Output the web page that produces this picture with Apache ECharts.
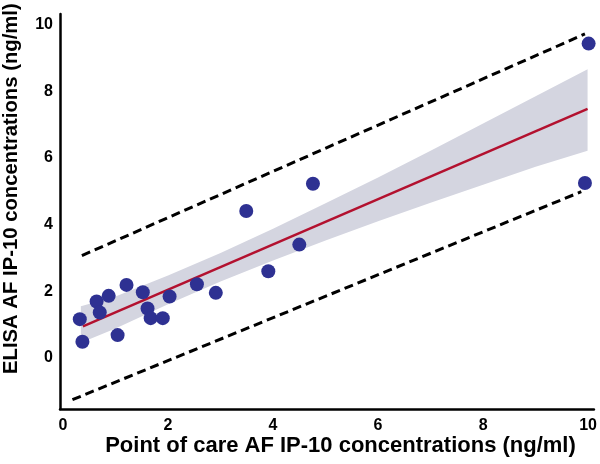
<!DOCTYPE html>
<html>
<head>
<meta charset="utf-8">
<script src="https://cdn.jsdelivr.net/npm/echarts@6/dist/echarts.min.js"></script>
<style>
html,body{margin:0;padding:0;background:#fff;}
#chart{width:600px;height:464px;}
</style>
</head>
<body>
<div id="chart"></div>
<script>
// Scatter points: point-of-care (x) vs ELISA (y), ng/ml
const pocValues   = [0.32, 0.37, 0.64, 0.70, 0.87, 1.04, 1.21, 1.52, 1.61, 1.67, 1.90, 2.03, 2.55, 2.91, 3.91, 4.50, 3.49, 4.76, 10.01, 9.94];
const elisaValues = [1.16, 0.48, 1.69, 1.36, 1.86, 0.68, 2.19, 1.97, 1.48, 1.19, 1.19, 1.84, 2.21, 1.95, 2.60, 3.40, 4.41, 5.23, 9.44, 5.25];

// Regression line end points
const fitX = [0.38, 9.99];
const fitY = [0.94, 7.48];

// Confidence band
const bandX     = [0.34, 1, 2, 3, 4, 5, 6, 7, 8, 9, 9.99];
const bandLower = [0.45, 0.88, 1.61, 2.29, 2.92, 3.52, 4.10, 4.66, 5.20, 5.74, 6.22];
const bandUpper = [1.55, 1.84, 2.47, 3.15, 3.88, 4.64, 5.42, 6.22, 7.04, 7.86, 8.67];

// Dashed limit lines
const upperLimX = [0.36, 9.94];
const upperLimY = [3.07, 9.73];
const lowerLimX = [0.18, 9.87];
const lowerLimY = [-1.26, 4.99];

// Tick labels
const xTicks = [0, 2, 4, 6, 8, 10];
const yTicks = [0, 2, 4, 6, 8, 10];

const xTitle = 'Point of care AF IP-10 concentrations (ng/ml)';
const yTitle = 'ELISA AF IP-10 concentrations (ng/ml)';

const FONT = '"Liberation Sans", Arial, sans-serif';
const zip = (a, b) => a.map((v, i) => [v, b[i]]);

const chart = echarts.init(document.getElementById('chart'), null, {renderer: 'canvas'});

const axisCommon = {
  type: 'value',
  splitLine: {show: false},
  axisTick: {show: false},
  axisLine: {show: true, onZero: false, lineStyle: {color: '#000', width: 2.5}},
  axisLabel: {
    show: true,
    color: '#000',
    fontFamily: FONT,
    fontWeight: 'bold',
    fontSize: 16
  }
};

chart.setOption({
  animation: false,
  backgroundColor: '#fff',
  grid: {left: 60, right: 4, top: 14, bottom: 55, containLabel: false},
  xAxis: Object.assign({}, axisCommon, {
    min: -0.057, max: 10.11,
    axisLabel: Object.assign({}, axisCommon.axisLabel, {customValues: xTicks, margin: 9})
  }),
  yAxis: Object.assign({}, axisCommon, {
    min: -1.54, max: 10.33,
    axisLabel: Object.assign({}, axisCommon.axisLabel, {customValues: yTicks, margin: 7})
  }),
  graphic: [
    {
      type: 'text',
      x: 340.5,
      y: 446,
      style: {text: xTitle, font: 'bold 22px ' + FONT, fill: '#000', textAlign: 'center', textVerticalAlign: 'middle'}
    },
    {
      type: 'text',
      x: 1,
      y: 374,
      rotation: Math.PI / 2,
      style: {text: yTitle, font: 'bold 20.3px ' + FONT, fill: '#000', textVerticalAlign: 'top'}
    }
  ],
  series: [
    {
      type: 'custom',
      z: 1,
      silent: true,
      data: [0],
      renderItem: function (params, api) {
        const pts = [];
        for (let i = 0; i < bandX.length; i++) pts.push(api.coord([bandX[i], bandUpper[i]]));
        for (let i = bandX.length - 1; i >= 0; i--) pts.push(api.coord([bandX[i], bandLower[i]]));
        return {type: 'polygon', shape: {points: pts}, style: {fill: '#d4d5e0'}};
      }
    },
    {
      type: 'line', z: 2, symbol: 'none', silent: true,
      data: zip(upperLimX, upperLimY),
      lineStyle: {color: '#000', width: 3, type: [9, 5]}
    },
    {
      type: 'line', z: 2, symbol: 'none', silent: true,
      data: zip(lowerLimX, lowerLimY),
      lineStyle: {color: '#000', width: 3, type: [9, 5]}
    },
    {
      type: 'line', z: 3, symbol: 'none', silent: true,
      data: zip(fitX, fitY),
      lineStyle: {color: '#b3112f', width: 2.5}
    },
    {
      type: 'scatter', z: 4,
      symbol: 'circle', symbolSize: 14,
      itemStyle: {color: '#2e3192', opacity: 1},
      data: zip(pocValues, elisaValues)
    }
  ]
});
</script>
</body>
</html>
